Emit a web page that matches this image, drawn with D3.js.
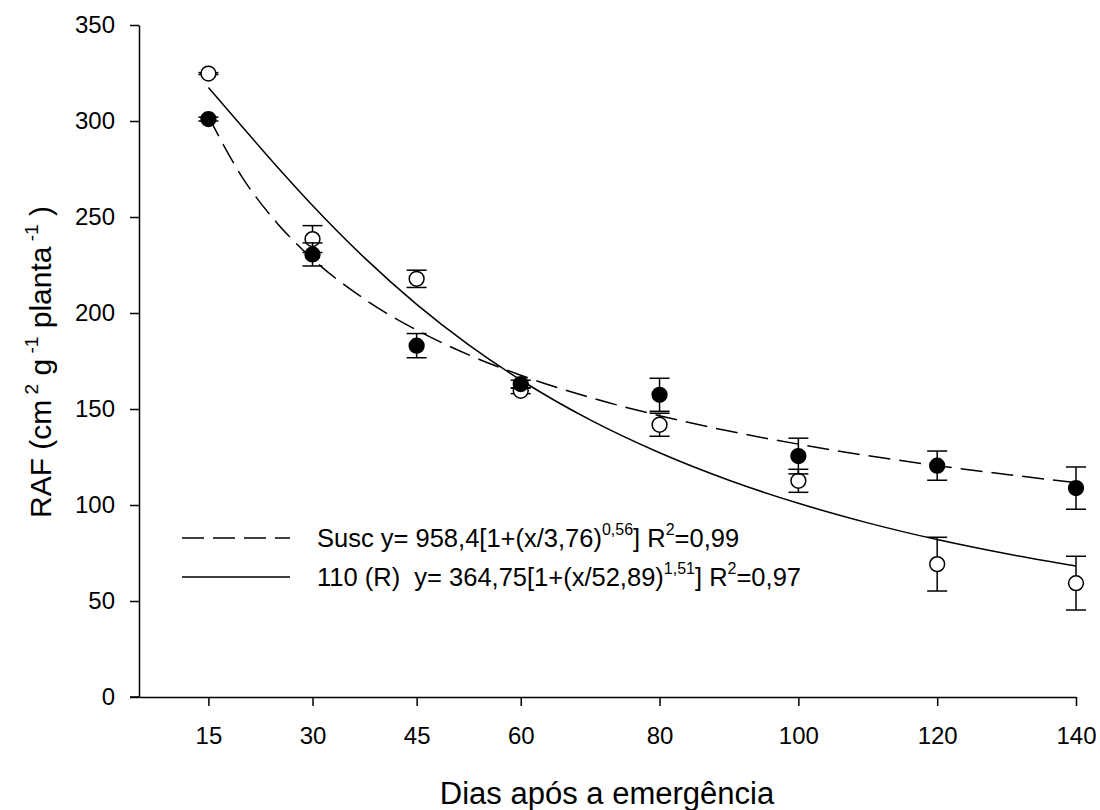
<!DOCTYPE html>
<html><head><meta charset="utf-8">
<script src="https://cdn.jsdelivr.net/npm/d3@7"></script>
<style>
body{margin:0;background:#fff}
svg{display:block;background:#fff}
text{font-family:"Liberation Sans",Arial,sans-serif;fill:#000}
</style>
</head><body>
<svg id="chart" width="1100" height="810"></svg>
<script>
// ---- data ----
const days = [15, 30, 45, 60, 80, 100, 120, 140];
const suscMean = [301, 230.5, 183, 163, 157.4, 125.5, 120.5, 108.8];
const suscErr  = [1, 6, 6.3, 2, 8.6, 9.3, 7.6, 11];
const resMean  = [324.7, 238.5, 217.8, 159.5, 141.8, 112.6, 69.2, 59.3];
const resErr   = [0.5, 7, 4.5, 1.5, 6, 6, 14, 14];
// fitted curves
const fitX     = [15, 20, 25, 30, 37.5, 45, 52.5, 60, 70, 80, 90, 100, 110, 120, 130, 140];
const suscFit  = [302.3, 270.0, 246.4, 228.2, 207.2, 191.1, 178.2, 167.6, 156.0, 146.5, 138.5, 131.7, 125.7, 120.5, 115.9, 111.7];
const resFit   = [317.4, 296.5, 275.8, 256.0, 228.7, 204.5, 183.4, 165.1, 144.3, 127.2, 112.9, 100.9, 90.7, 82.0, 74.6, 68.2];
const yTicks   = [0, 50, 100, 150, 200, 250, 300, 350];
const xTitle = "Dias após a emergência";
const legendSusc = [["Susc y= 958,4[1+(x/3,76)", 0], ["0,56", 1], ["] R", 0], ["2", 1], ["=0,99", 0]];
const legendRes  = [["110 (R)  y= 364,75[1+(x/52,89)", 0], ["1,51", 1], ["] R", 0], ["2", 1], ["=0,97", 0]];
const yTitleParts = [["RAF (cm", 0], [" 2", 1], [" g", 0], [" -1", 1], [" planta", 0], [" -1", 1], [" )", 0]];

const svg = d3.select("#chart");
const x = d3.scaleLinear().domain([5, 140]).range([139, 1076]);
const y = d3.scaleLinear().domain([0, 350]).range([697, 25]);

// axes
const gx = svg.append("g").attr("transform", "translate(0,697)")
  .call(d3.axisBottom(x).tickValues(days).tickSize(9).tickPadding(21).tickSizeOuter(0).tickFormat(d3.format("d")));
const gy = svg.append("g").attr("transform", "translate(139,0)")
  .call(d3.axisLeft(y).tickValues(yTicks).tickSize(9).tickPadding(15).tickSizeOuter(0));
[gx, gy].forEach(g => {
  g.selectAll("path.domain").attr("stroke", "#000").attr("stroke-width", 1.5);
  g.selectAll(".tick line").attr("stroke", "#000").attr("stroke-width", 1.5);
  g.selectAll(".tick text").attr("font-size", 24).attr("font-family", '"Liberation Sans",Arial,sans-serif').attr("fill", "#000");
});
svg.append("line").attr("x1", 130).attr("x2", 139).attr("y1", 697).attr("y2", 697).attr("stroke", "#000").attr("stroke-width", 1.5);

// fitted curves
const line = d3.line().x(d => x(d[0])).y(d => y(d[1])).curve(d3.curveMonotoneX);
svg.append("path").datum(fitX.map((v, i) => [v, resFit[i]]))
  .attr("d", line).attr("fill", "none").attr("stroke", "#000").attr("stroke-width", 1.5);
svg.append("path").datum(fitX.map((v, i) => [v, suscFit[i]]))
  .attr("d", line).attr("fill", "none").attr("stroke", "#000").attr("stroke-width", 1.5)
  .attr("stroke-dasharray", "22,9");

// error bars + markers
function series(means, errs, filled) {
  const data = days.map((d, i) => ({d, m: means[i], e: errs[i]}));
  const g = svg.append("g");
  const eb = g.selectAll("g.eb").data(data).join("g").attr("stroke", "#000").attr("stroke-width", 1.5);
  eb.append("line").attr("x1", p => x(p.d)).attr("x2", p => x(p.d))
    .attr("y1", p => y(p.m - p.e)).attr("y2", p => y(p.m + p.e));
  eb.append("line").attr("x1", p => x(p.d) - 10).attr("x2", p => x(p.d) + 10)
    .attr("y1", p => y(p.m + p.e)).attr("y2", p => y(p.m + p.e));
  eb.append("line").attr("x1", p => x(p.d) - 10).attr("x2", p => x(p.d) + 10)
    .attr("y1", p => y(p.m - p.e)).attr("y2", p => y(p.m - p.e));
  g.selectAll("circle").data(data).join("circle")
    .attr("cx", p => x(p.d)).attr("cy", p => y(p.m)).attr("r", 7.4)
    .attr("fill", filled ? "#000" : "#fff").attr("stroke", "#000").attr("stroke-width", 1.5);
}
series(resMean, resErr, false);
series(suscMean, suscErr, true);

// rich text helper: superscript parts shift up, following part shifts back
function richText(t, parts, size, supSize, rise) {
  let up = false;
  parts.forEach(([s, sup]) => {
    const ts = t.append("tspan").text(s);
    if (sup) {
      ts.attr("font-size", supSize).attr("dy", up ? 0 : -rise);
      up = true;
    } else {
      ts.attr("font-size", size);
      if (up) { ts.attr("dy", rise); up = false; }
    }
  });
}

// legend
function legendRow(yPos, dashed, parts) {
  svg.append("line").attr("x1", 182).attr("x2", 290).attr("y1", yPos).attr("y2", yPos)
    .attr("stroke", "#000").attr("stroke-width", 1.5).attr("stroke-dasharray", dashed ? "22,9" : null);
  const t = svg.append("text").attr("x", 317).attr("y", yPos + 9).attr("font-size", 25.5)
    .style("white-space", "pre");
  richText(t, parts, 25.5, 16, 12);
}
legendRow(538, true, legendSusc);
legendRow(577, false, legendRes);

// axis titles
svg.append("text").attr("x", 607).attr("y", 804).attr("text-anchor", "middle").attr("font-size", 31).text(xTitle);
const yt = svg.append("text").attr("transform", "translate(51,362) rotate(-90)")
  .attr("text-anchor", "middle").attr("font-size", 30).style("white-space", "pre");
richText(yt, yTitleParts, 30, 19, 13);
</script>
</body></html>
